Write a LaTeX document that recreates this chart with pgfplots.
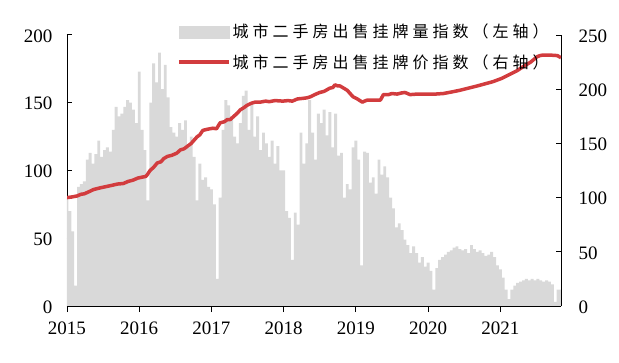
\documentclass[border=0pt]{standalone}
\usepackage{pgfplots}
\pgfplotsset{compat=1.18}
\usepackage{fontspec}
\setmainfont{Liberation Serif}
\newfontfamily\cjk[LetterSpace=25]{Noto Sans CJK SC}
\definecolor{barcol}{RGB}{217,217,217}
\definecolor{redcol}{RGB}{210,60,62}

\begin{document}
\begin{tikzpicture}
\useasboundingbox (-67bp,-57bp) rectangle (552bp,306bp);
\begin{axis}[
  at={(0,0)}, anchor=south west,
  scale only axis, width=494bp, height=271bp,
  xmin=2015, xmax=2021.84, ymin=0, ymax=200,
  axis x line*=bottom, axis y line*=left,
  xtick={2015,...,2021}, ytick={0,50,...,200},
  tick align=inside, major tick length=5bp,
  xtick style={yshift=-6bp},
  every tick/.style={black, line width=1pt},
  axis line style={black, line width=1pt, -},
  /pgf/number format/assume math mode=true,
  /pgf/number format/1000 sep={},
  ticklabel style={font=\fontsize{19bp}{19bp}\selectfont},
  yticklabel style={xshift=-11bp, yshift=-1bp},
  xticklabel style={yshift=-12bp},
  clip=true,
]
\addplot[const plot mark mid, fill=barcol, draw=none] table {
2015.00 80
2015.04 70
2015.08 55
2015.12 15
2015.16 88
2015.20 90
2015.24 92
2015.28 108
2015.32 113
2015.36 105
2015.40 112
2015.44 122
2015.48 110
2015.52 115
2015.56 117
2015.60 114
2015.64 130
2015.68 147
2015.72 140
2015.76 142
2015.80 147
2015.84 152
2015.88 150
2015.92 145
2015.96 135
2016.00 173
2016.04 130
2016.08 115
2016.12 78
2016.16 150
2016.20 179
2016.24 165
2016.28 187
2016.32 160
2016.36 178
2016.40 154
2016.44 132
2016.48 128
2016.52 125
2016.56 135
2016.60 130
2016.64 137
2016.68 117
2016.72 125
2016.76 110
2016.80 78
2016.84 105
2016.88 93
2016.92 95
2016.96 88
2017.00 86
2017.04 75
2017.08 20
2017.12 80
2017.16 130
2017.20 152
2017.24 148
2017.28 140
2017.32 125
2017.36 120
2017.40 135
2017.44 155
2017.48 159
2017.52 130
2017.56 150
2017.60 125
2017.64 140
2017.68 115
2017.72 128
2017.76 120
2017.80 110
2017.84 122
2017.88 105
2017.92 118
2017.96 100
2018.00 100
2018.04 70
2018.08 65
2018.12 34
2018.16 69
2018.20 60
2018.24 128
2018.28 105
2018.32 120
2018.36 152
2018.40 128
2018.44 108
2018.48 142
2018.52 135
2018.56 145
2018.60 126
2018.64 143
2018.68 117
2018.72 142
2018.76 111
2018.80 113
2018.84 80
2018.88 90
2018.92 86
2018.96 117
2019.00 122
2019.04 108
2019.08 30
2019.12 114
2019.16 113
2019.20 91
2019.24 95
2019.28 83
2019.32 108
2019.36 97
2019.40 103
2019.44 95
2019.48 80
2019.52 72
2019.56 58
2019.60 61
2019.64 56
2019.68 49
2019.72 45
2019.76 39
2019.80 44
2019.84 39
2019.88 32
2019.92 36
2019.96 29
2020.00 32
2020.04 26
2020.08 12
2020.12 28
2020.16 34
2020.20 36
2020.24 38
2020.28 40
2020.32 41
2020.36 43
2020.40 44
2020.44 42
2020.48 41
2020.52 42
2020.56 39
2020.60 45
2020.64 42
2020.68 40
2020.72 41
2020.76 39
2020.80 37
2020.84 38
2020.88 40
2020.92 36
2020.96 30
2021.00 27
2021.04 21
2021.08 12
2021.12 5
2021.16 12
2021.20 15
2021.24 17
2021.28 18
2021.32 19
2021.36 20
2021.40 19
2021.44 20
2021.48 19
2021.52 20
2021.56 19
2021.60 18
2021.64 19
2021.68 18
2021.72 16
2021.76 3
2021.80 12
2021.84 12
2021.88 12
} \closedcycle;
\end{axis}
\begin{axis}[
  at={(0,0)}, anchor=south west,
  scale only axis, width=494bp, height=271bp,
  xmin=2015, xmax=2021.84, ymin=0, ymax=250,
  axis x line=none, axis y line*=right,
  ytick={0,50,...,250},
  tick align=inside, major tick length=5bp,
  every tick/.style={black, line width=1pt},
  axis line style={black, line width=1pt, -},
  /pgf/number format/assume math mode=true,
  ticklabel style={font=\fontsize{19bp}{19bp}\selectfont},
  yticklabel style={xshift=14bp, yshift=-1bp},
  legend style={at={(rel axis cs:0.2227,1.048)}, anchor=north west,
    draw=none, fill=none, inner sep=0pt, row sep=11bp,
    font=\cjk\fontsize{16bp}{18bp}\selectfont,
    nodes={inner sep=2bp}},
  legend cell align=left,
]
\addlegendimage{legend image code/.code={\fill[barcol] (0bp,-6bp) rectangle (50bp,6bp);}}
\addlegendentry{城市二手房出售挂牌量指数（左轴）}
\addplot[redcol, line width=3.5bp, line join=round,
  legend image code/.code={\draw[redcol, line width=3.5bp] (0bp,0bp) -- (50bp,0bp);}] table {
2015.00 100
2015.06 100.5
2015.14 101.5
2015.19 103
2015.24 103.5
2015.29 105
2015.37 107.5
2015.46 109
2015.53 110
2015.60 111
2015.70 112.5
2015.78 113
2015.85 115
2015.91 116
2015.98 118
2016.05 119
2016.09 119.5
2016.11 121
2016.15 125
2016.20 128
2016.25 132
2016.30 133
2016.34 136
2016.39 138
2016.45 139
2016.52 141
2016.57 144
2016.62 145
2016.66 147
2016.72 150
2016.76 153
2016.80 156
2016.84 158
2016.88 162
2016.94 163
2017.02 164
2017.07 163.5
2017.12 169
2017.18 170
2017.22 172
2017.26 172
2017.31 175
2017.36 178
2017.40 181
2017.45 183
2017.49 185
2017.55 187
2017.60 188
2017.67 188
2017.75 189
2017.80 188.5
2017.88 189.5
2017.99 189
2018.06 189.5
2018.12 189
2018.19 191
2018.26 191.5
2018.32 192
2018.37 193
2018.43 195
2018.50 197
2018.56 198
2018.64 201
2018.68 201.5
2018.71 204
2018.75 203
2018.78 203
2018.83 201
2018.88 199
2018.92 196
2018.96 193
2019.02 191
2019.09 188
2019.12 189
2019.16 190
2019.25 190
2019.34 190
2019.38 195
2019.45 195
2019.50 196
2019.57 195.5
2019.63 196.5
2019.68 197
2019.75 195
2019.85 195.5
2019.99 195.5
2020.10 195.5
2020.21 196
2020.33 197.5
2020.44 199
2020.56 201
2020.68 203
2020.79 205
2020.90 207
2021.02 210
2021.14 214
2021.23 217
2021.32 221
2021.42 225
2021.51 230
2021.55 231
2021.59 231.5
2021.68 231.5
2021.79 231
2021.84 229
};
\addlegendentry{城市二手房出售挂牌价指数（右轴）}
\end{axis}
\end{tikzpicture}
\end{document}
